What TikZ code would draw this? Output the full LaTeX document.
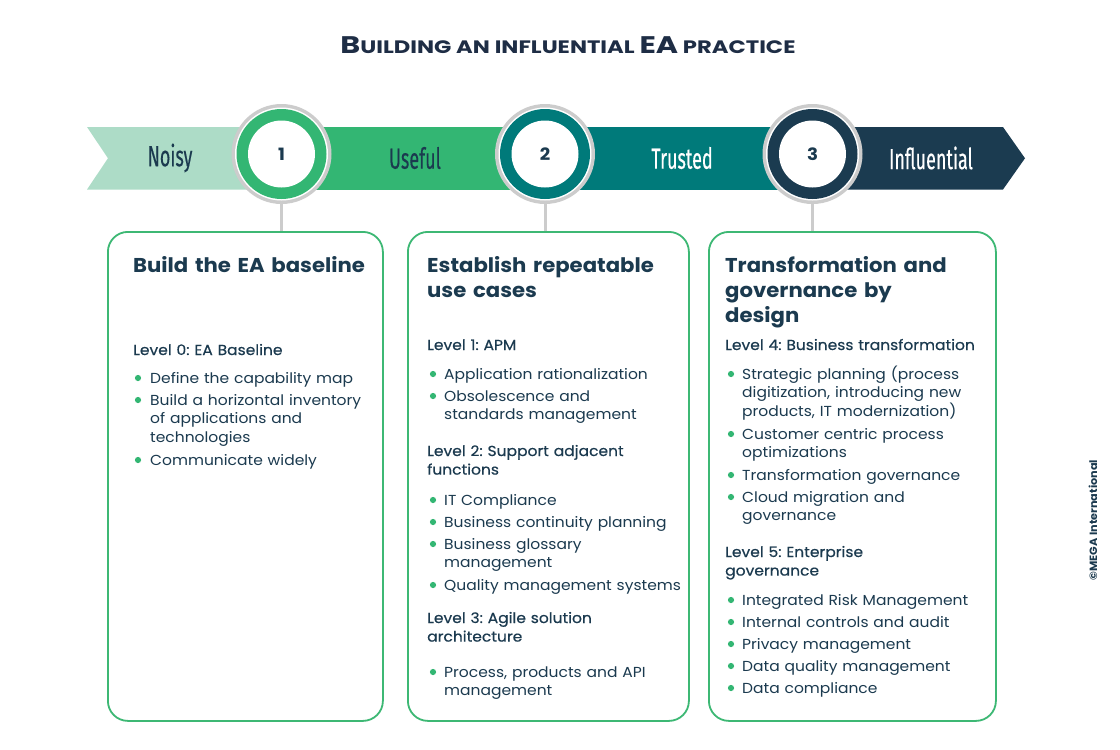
\documentclass[tikz,border=0pt]{standalone}
\usepackage{fontspec}
\setmainfont{Poppins}[FakeStretch=1.07]
\newfontfamily\medfont[FakeBold=0.45,FakeStretch=1.07]{Poppins}
\newfontfamily\headfont[FakeStretch=1.06]{Poppins}
\newfontfamily\titlefont[FakeStretch=1.26]{Poppins}
\newfontfamily\banfont[FakeStretch=0.62,FakeBold=0.3]{Fira Sans}
\definecolor{navy}{HTML}{1B3A4F}
\definecolor{titlec}{HTML}{1E2D45}
\definecolor{lgreen}{HTML}{ADDCC7}
\definecolor{mgreen}{HTML}{33B673}
\definecolor{teal}{HTML}{007A7A}
\definecolor{dnavy}{HTML}{1B3B50}
\definecolor{ringgray}{HTML}{CCCCCC}
\definecolor{boxgreen}{HTML}{3DB874}
\frenchspacing
\tikzset{
  box/.style={draw=boxgreen, line width=1.8pt, rounded corners=20pt, anchor=north west, inner sep=0},
  conn/.style={draw=ringgray, line width=3pt},
  body/.style={anchor=base west, text width=262pt, align=left, inner sep=0, text=navy,
     font=\fontsize{14.5}{18.6}\selectfont},
  lvl/.style={body, font=\medfont\fontsize{14.5}{18.6}\selectfont},
  head/.style={body, font=\headfont\bfseries\fontsize{20}{25}\selectfont},
  dot/.style={fill=mgreen, circle, inner sep=0, minimum size=6.2pt},
  ban/.style={font=\banfont\fontsize{29}{29}\selectfont, inner sep=0},
  num/.style={circle, fill=white, inner sep=0, minimum size=67pt, text=navy, font=\bfseries\fontsize{17}{17}\selectfont},
}
\begin{document}
\begin{tikzpicture}[x=1pt,y=-1pt]
\useasboundingbox[fill=white] (0,0) rectangle (1120,750);
% title
\node[text=titlec, font=\titlefont\bfseries, inner sep=0] (title) at (568,45)
 {{\fontsize{24}{24}\selectfont B}{\fontsize{18}{18}\selectfont UILDING AN INFLUENTIAL }{\fontsize{24}{24}\selectfont EA}{\fontsize{18}{18}\selectfont{} PRACTICE}};
% banner
\fill[lgreen] (87,127) -- (290,127) -- (290,189.5) -- (87,189.5) -- (108,158.25) -- cycle;
\fill[mgreen] (281,127) rectangle (548,189.5);
\fill[teal] (545,127) rectangle (815,189.5);
\fill[dnavy] (812,127) -- (1003,127) -- (1025,158.25) -- (1003,189.5) -- (812,189.5) -- cycle;
\node[ban, text=navy] (t0) at (170,158) {Noisy};
\node[ban, text=navy] (t1) at (415,158) {Useful};
\node[ban, text=white] (t2) at (682,158) {Trusted};
\node[ban, text=white] (t3) at (931,158) {Influential};
% circles
\foreach \n/\x/\c in {1/281.5/mgreen, 2/545/teal, 3/812.5/dnavy}{
  \node[circle, fill=ringgray, minimum size=100pt, inner sep=0] (g\n) at (\x,154) {};
  \node[circle, fill=white, minimum size=93pt, inner sep=0] at (\x,154) {};
  \node[circle, fill=\c, minimum size=90pt, inner sep=0] at (\x,154) {};
  \node[num] (c\n) at (\x,154) {\n};
}
% boxes
\node[box, minimum width=275pt, minimum height=489pt] (b1) at (107,231) {};
\node[box, minimum width=281pt, minimum height=489pt] (b2) at (407,231) {};
\node[box, minimum width=287pt, minimum height=489pt] (b3) at (708,231) {};
\foreach \n in {1,2,3}{ \draw[conn] (g\n.south) -- (g\n.south |- b\n.north); }
% box 1
\node[head] (h1) at (133,272) {Build the EA baseline};
\node[lvl] (l0) at (133,355) {Level 0: EA Baseline};
\foreach \y/\t in {383/{Define the capability map}, 405/{Build a horizontal inventory\\of applications and\\technologies}, 465/{Communicate widely}}{
  \node[dot] at (138,\y-5) {};
  \node[body] at (150,\y) {\t};
}
% box 2
\node[head] (h2) at (427,272) {Establish repeatable\\use cases};
\node[lvl] (l1) at (427,350) {Level 1: APM};
\node[lvl] (l2) at (427,456) {Level 2: Support adjacent\\functions};
\node[lvl] (l3) at (427,623) {Level 3: Agile solution\\architecture};
\foreach \y/\t in {379/{Application rationalization}, 401/{Obsolescence and\\standards management}, 505/{IT Compliance}, 527/{Business continuity planning}, 549/{Business glossary\\management}, 590/{Quality management systems}, 677/{Process, products and API\\management}}{
  \node[dot] at (433,\y-5) {};
  \node[body] at (444,\y) {\t};
}
% box 3
\node[head] (h3) at (725,272) {Transformation and\\governance by\\design};
\node[lvl] (l4) at (725,350) {Level 4: Business transformation};
\node[lvl] (l5) at (725,557) {Level 5: Enterprise\\governance};
\foreach \y/\t in {379/{Strategic planning (process\\digitization, introducing new\\products, IT modernization)}, 439/{Customer centric process\\optimizations}, 480/{Transformation governance}, 502/{Cloud migration and\\governance}, 605/{Integrated Risk Management}, 627/{Internal controls and audit}, 649/{Privacy management}, 671/{Data quality management}, 693/{Data compliance}}{
  \node[dot] at (731,\y-5) {};
  \node[body] at (742,\y) {\t};
}
% copyright
\node[rotate=90, text=navy, font=\bfseries\fontsize{10.5}{10.5}\selectfont, inner sep=0] (copy) at (1093,520) {©MEGA International};
\end{tikzpicture}
\end{document}
